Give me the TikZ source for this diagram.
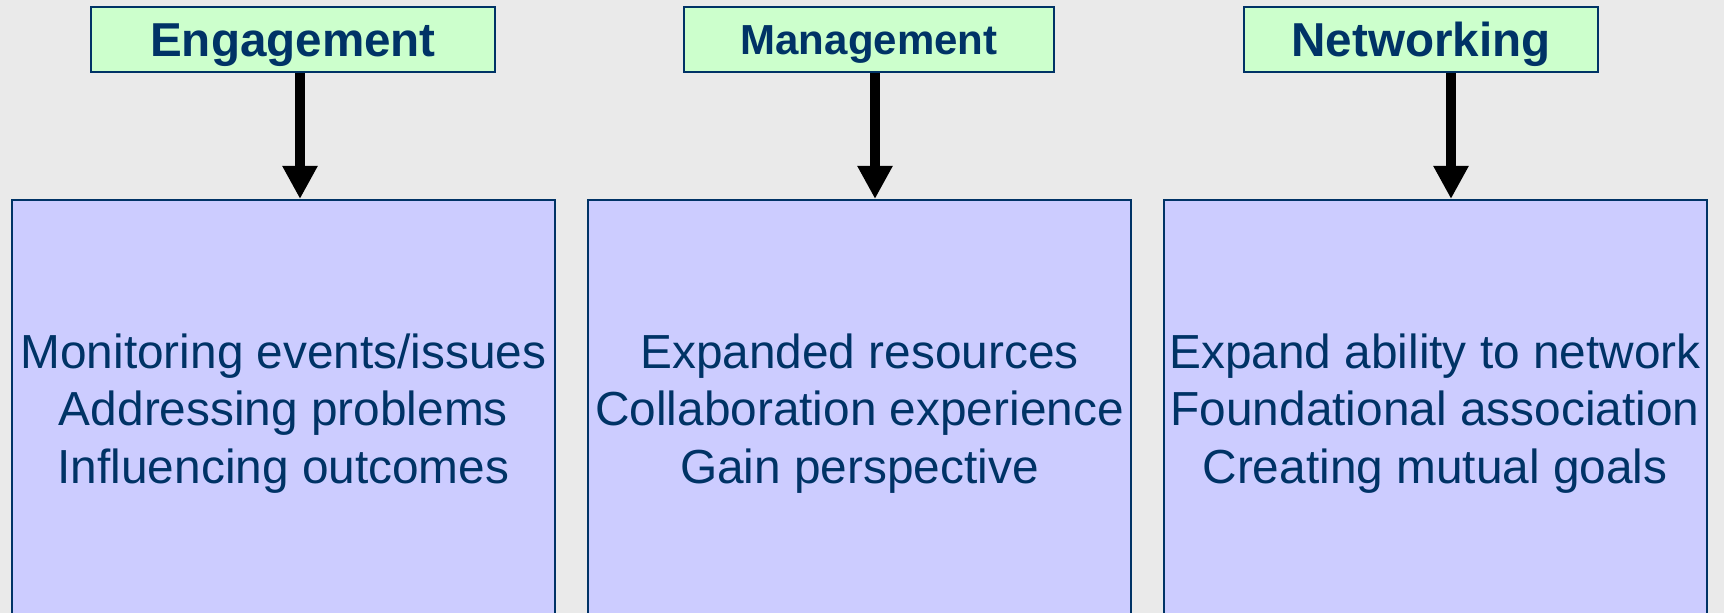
\documentclass[tikz,border=0pt]{standalone}
\usepackage{fontspec}
\setmainfont{Liberation Sans}
\usetikzlibrary{arrows.meta}
\definecolor{navy}{HTML}{003366}
\definecolor{hdrfill}{HTML}{CCFFCC}
\definecolor{boxfill}{HTML}{CCCCFF}
\definecolor{bgc}{HTML}{EAEAEA}
\tikzset{
  hdr/.style={draw=navy, fill=hdrfill, line width=1pt, inner sep=0pt,
    minimum height=32.5pt, text=navy, text height=17pt, text depth=0pt,
    font=\fontsize{23.8}{28}\selectfont\bfseries},
  body/.style={draw=navy, fill=boxfill, line width=1pt, inner sep=0pt,
    minimum width=271.5pt, minimum height=213.5pt, text=navy, align=center,
    font=\fontsize{23.9}{28.8}\selectfont},
  arr/.style={draw=black, line width=5pt, -{Triangle[width=16.5pt,length=16.5pt]}}
}
\begin{document}
\begin{tikzpicture}[x=0.5pt,y=-0.5pt]
\useasboundingbox (0,0) rectangle (1724,613);
\clip (0,0) rectangle (1724,613);
\fill[bgc] (0,0) rectangle (1724,613);
% headers
\node[hdr, minimum width=202pt] (eng) at (293,40) {Engagement};
\node[hdr, minimum width=185pt, text height=15pt, font=\fontsize{21}{25}\selectfont\bfseries] (man) at (869,40) {Management};
\node[hdr, minimum width=177pt] (net) at (1421,40) {Networking};
% bodies
\node[body] (b1) at (283.5,413.5) {Monitoring events/issues\\Addressing problems\\Influencing outcomes};
\node[body] (b2) at (859.5,413.5) {Expanded resources\\Collaboration experience\\Gain perspective};
\node[body] (b3) at (1435,413.5) {Expand ability to network\\Foundational association\\Creating mutual goals};
% arrow positions
\coordinate (a1) at (300,0);
\coordinate (a2) at (875,0);
\coordinate (a3) at (1451,0);
\draw[arr] (eng.south -| a1) -- (b1.north -| a1);
\draw[arr] (man.south -| a2) -- (b2.north -| a2);
\draw[arr] (net.south -| a3) -- (b3.north -| a3);
\end{tikzpicture}
\end{document}
